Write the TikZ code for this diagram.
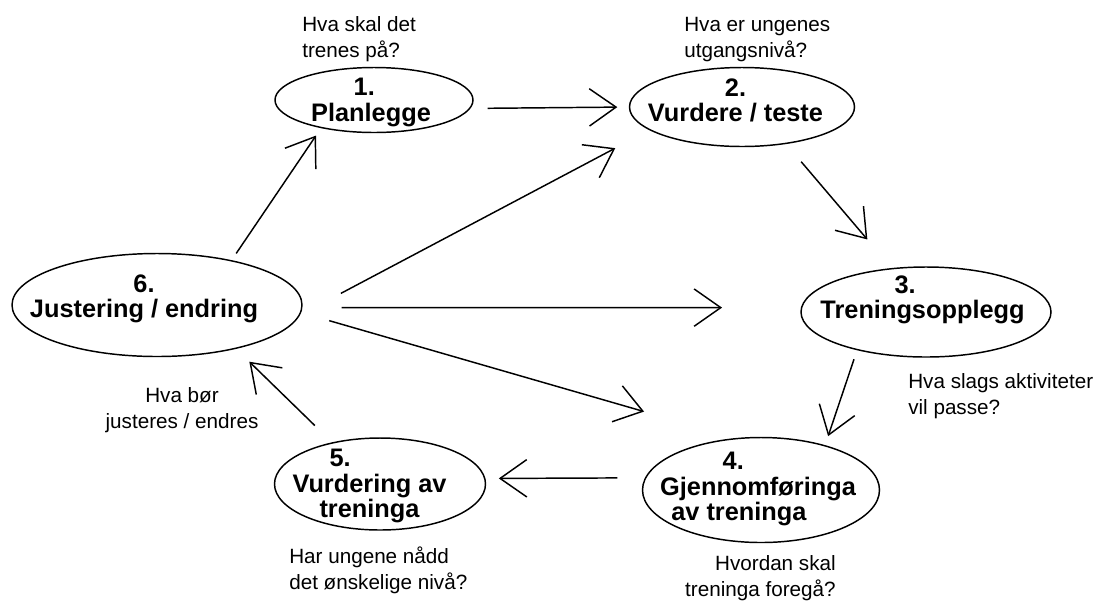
\documentclass[tikz,border=0pt]{standalone}
\usepackage{fontspec}
\setmainfont{Liberation Sans}
\usetikzlibrary{arrows.meta,shapes.geometric}

\begin{document}
\begin{tikzpicture}[x=0.75pt, y=-0.75pt,
  stage/.style={draw, ellipse, line width=1.1pt, inner sep=0pt},
  stagetext/.style={align=center, inner sep=0pt, font=\bfseries\fontsize{19}{19}\selectfont},
  note/.style={inner sep=0pt, font=\fontsize{15.5}{19.5}\selectfont},
  flow/.style={line width=1.1pt, -{Straight Barb[length=20pt, width=28pt]}}]
  \useasboundingbox (0,0) rectangle (1098,601);

  \node[stage, minimum width=148.5pt, minimum height=48.75pt] (n1) at (374,100) {};
  \node[stage, minimum width=168.75pt, minimum height=59.25pt] (n2) at (742,107) {};
  \node[stage, minimum width=187.5pt, minimum height=67.5pt] (n3) at (926,312) {};
  \node[stage, minimum width=177.75pt, minimum height=78.75pt] (n4) at (761,490) {};
  \node[stage, minimum width=158.25pt, minimum height=69pt] (n5) at (380,484) {};
  \node[stage, minimum width=217.5pt, minimum height=77.25pt] (n6) at (157,305) {};

  \node[stagetext] (t1) at (371,102.5) {\makebox[26pt][l]{1.}\\Planlegge};
  \node[stagetext] (t2) at (735.5,100.5) {2.\\Vurdere / teste};
  \node[stagetext] (t3) at (922.5,300) {\makebox[42pt][l]{3.}\\Treningsopplegg};
  \node[stagetext] (t4) at (758,489) {\makebox[53pt][l]{4.}\\Gjennomføringa\\\makebox[130pt][l]{av treninga}};
  \node[stagetext] (t5) at (369.5,486) {\makebox[60pt][l]{5.}\\Vurdering av\\treninga};
  \node[stagetext] (t6) at (144,298.5) {6.\\Justering / endring};

  \node[note, anchor=north west, align=left] (q1) at (302,16) {Hva skal det\\trenes på?};
  \node[note, anchor=north west, align=left] (q2) at (684,17) {Hva er ungenes\\utgangsnivå?};
  \node[note, anchor=north west, align=left] (q3) at (908,373) {Hva slags aktiviteter\\vil passe?};
  \node[note, anchor=north east, align=right] (q4) at (836,555) {Hvordan skal\\treninga foregå?};
  \node[note, anchor=north west, align=left] (q5) at (289,547) {Har ungene nådd\\det ønskelige nivå?};
  \node[note, anchor=north, align=center] (q6) at (182,387) {Hva bør\\justeres / endres};

  \draw[flow, shorten <=6.1pt, shorten >=6.7pt] (n6.31) -- (n1.208);
  \draw[flow, shorten <=12.8pt, shorten >=8.6pt] (n1.-5) -- (n2.180);
  \draw[flow, shorten <=34.7pt, shorten >=28.9pt] (n6.-4) -- (n2.194);
  \draw[flow, shorten <=29.3pt, shorten >=59.1pt] (n6.-1) -- (n3.178);
  \draw[flow, shorten <=21.9pt, shorten >=71.5pt] (n6.-3) -- (n4.116);
  \draw[flow, shorten <=17.4pt, shorten >=28.1pt] (n2.-40) -- (n3.128);
  \draw[flow, shorten <=7.1pt, shorten >=7.1pt] (n3.209) -- (n4.35);
  \draw[flow, shorten <=20.6pt, shorten >=10pt] (n4.174) -- (n5.3);
  \draw[flow, shorten <=18pt, shorten >=13.8pt] (n5.139) -- (n6.-29);
\end{tikzpicture}
\end{document}
